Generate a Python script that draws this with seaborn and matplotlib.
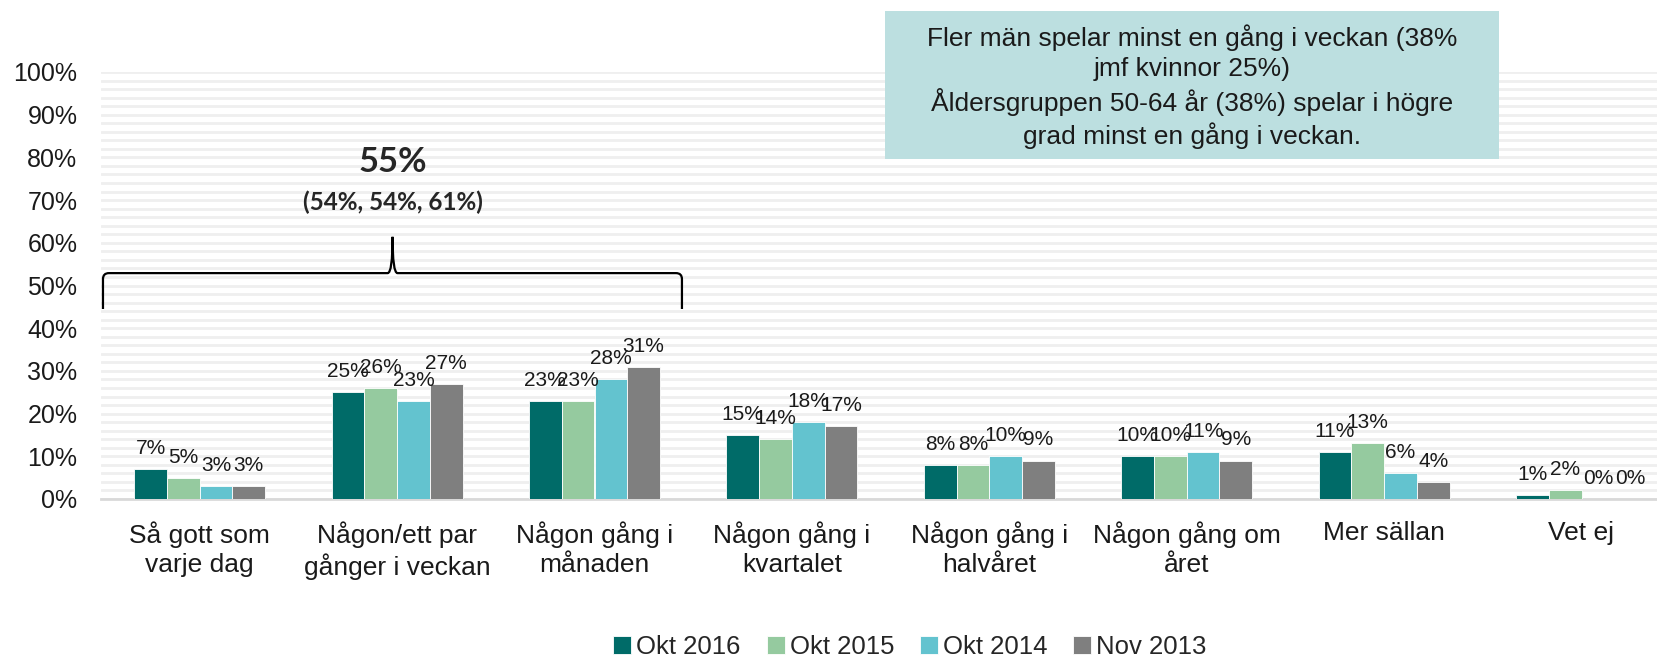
import matplotlib
matplotlib.use("Agg")
import matplotlib.pyplot as plt
import seaborn as sns
import pandas as pd
from matplotlib.path import Path
from matplotlib.patches import PathPatch, Rectangle
from matplotlib.ticker import FuncFormatter, MultipleLocator

# data
categories = ["Så gott som\nvarje dag", "Någon/ett par\ngånger i veckan", "Någon gång i\nmånaden",
              "Någon gång i\nkvartalet", "Någon gång i\nhalvåret", "Någon gång om\nåret",
              "Mer sällan", "Vet ej"]
periods = ["Okt 2016", "Okt 2015", "Okt 2014", "Nov 2013"]
okt_2016 = [7, 25, 23, 15, 8, 10, 11, 1]
okt_2015 = [5, 26, 23, 14, 8, 10, 13, 2]
okt_2014 = [3, 23, 28, 18, 10, 11, 6, 0]
nov_2013 = [3, 27, 31, 17, 9, 9, 4, 0]
colors = ["#006B68", "#95CA9F", "#63C3CF", "#7F7F7F"]

brace_total = "55%"
brace_prev = "(54%, 54%, 61%)"
note = ("Fler män spelar minst en gång i veckan (38%\njmf kvinnor 25%)\n"
        "Åldersgruppen 50-64 år (38%) spelar i högre\ngrad minst en gång i veckan.")

rows = []
for period, vals in zip(periods, [okt_2016, okt_2015, okt_2014, nov_2013]):
    for cat, v in zip(categories, vals):
        rows.append({"kategori": cat, "period": period, "andel": v})
df = pd.DataFrame(rows)

sns.set_theme(style="white")
plt.rcParams["font.family"] = ["Liberation Sans", "DejaVu Sans"]

W, H = 1657, 656
fig = plt.figure(figsize=(W / 100, H / 100), dpi=100)
ax_left, ax_right, ax_top, ax_bot = 101, W, 72, 499
ax = fig.add_axes([ax_left / W, 1 - ax_bot / H, (ax_right - ax_left) / W, (ax_bot - ax_top) / H])

sns.barplot(data=df, x="kategori", y="andel", hue="period", palette=colors, saturation=1,
            width=0.664, gap=0, edgecolor="white", linewidth=0.6, ax=ax, zorder=3)

for cont in ax.containers:
    ax.bar_label(cont, fmt="%d%%", padding=8, fontsize=15, color="#1a1a1a")

ax.set_ylim(0, 100)
ax.set_xlim(-0.5, -0.5 + (ax_right - ax_left) / 197.4)
ax.yaxis.set_major_locator(MultipleLocator(10))
ax.yaxis.set_minor_locator(MultipleLocator(2))
ax.yaxis.set_major_formatter(FuncFormatter(lambda v, p: f"{v:.0f}%"))
ax.yaxis.grid(True, which="both", color="#EFEFEF", linewidth=2)
ax.set_axisbelow(True)
ax.tick_params(axis="both", which="both", length=0)
ax.tick_params(axis="y", labelsize=18, pad=17, colors="#1a1a1a")
ax.tick_params(axis="x", labelsize=19, pad=16, colors="#1a1a1a")
for lab in ax.get_xticklabels():
    lab.set_linespacing(1.25)
ax.set_xlabel("")
ax.set_ylabel("")
for s in ["left", "right", "top"]:
    ax.spines[s].set_visible(False)
ax.spines["bottom"].set_color("#D9D9D9")
ax.spines["bottom"].set_linewidth(2)

# brace over the first three groups
xl, xr, xm = -0.49, 2.443, 0.977
yb, yl, yp = 44.5, 52.9, 61.4
dx, dy, w = 0.03, 1.4, 0.025
verts = [(xl, yb), (xl, yl - dy), (xl, yl), (xl + dx, yl), (xm - w, yl), (xm, yl), (xm, yp),
         (xm, yl), (xm + w, yl), (xr - dx, yl), (xr, yl), (xr, yl - dy), (xr, yb)]
codes = [Path.MOVETO, Path.LINETO, Path.CURVE3, Path.CURVE3, Path.LINETO, Path.CURVE3, Path.CURVE3,
         Path.CURVE3, Path.CURVE3, Path.LINETO, Path.CURVE3, Path.CURVE3, Path.LINETO]
ax.add_patch(PathPatch(Path(verts, codes), facecolor="none", edgecolor="black", lw=1.6, zorder=4))
ax.text(xm, 78.9, brace_total, ha="center", va="center", fontsize=25, fontweight="bold",
        family=["Lato", "DejaVu Sans"])
ax.text(xm, 69.6, brace_prev, ha="center", va="center", fontsize=17.5, fontweight="bold",
        family=["Lato", "DejaVu Sans"])

# note box
fig.add_artist(Rectangle((885 / W, 1 - 159 / H), 614 / W, 148 / H, transform=fig.transFigure,
                         facecolor="#BCDFE0", edgecolor="none", zorder=5))
fig.text(1192 / W, 1 - 87 / H, note, ha="center", va="center", fontsize=19, linespacing=1.3,
         color="#1a1a1a", zorder=6)

handles, labels = ax.get_legend_handles_labels()
ax.get_legend().remove()
fig.legend(handles, labels, loc="center", bbox_to_anchor=(910 / W, 1 - 647 / H), ncol=4,
           frameon=False, fontsize=18.5, handlelength=0.7, handleheight=0.7,
           handletextpad=0.2, columnspacing=1.0)

fig.savefig("out.png", dpi=100)
